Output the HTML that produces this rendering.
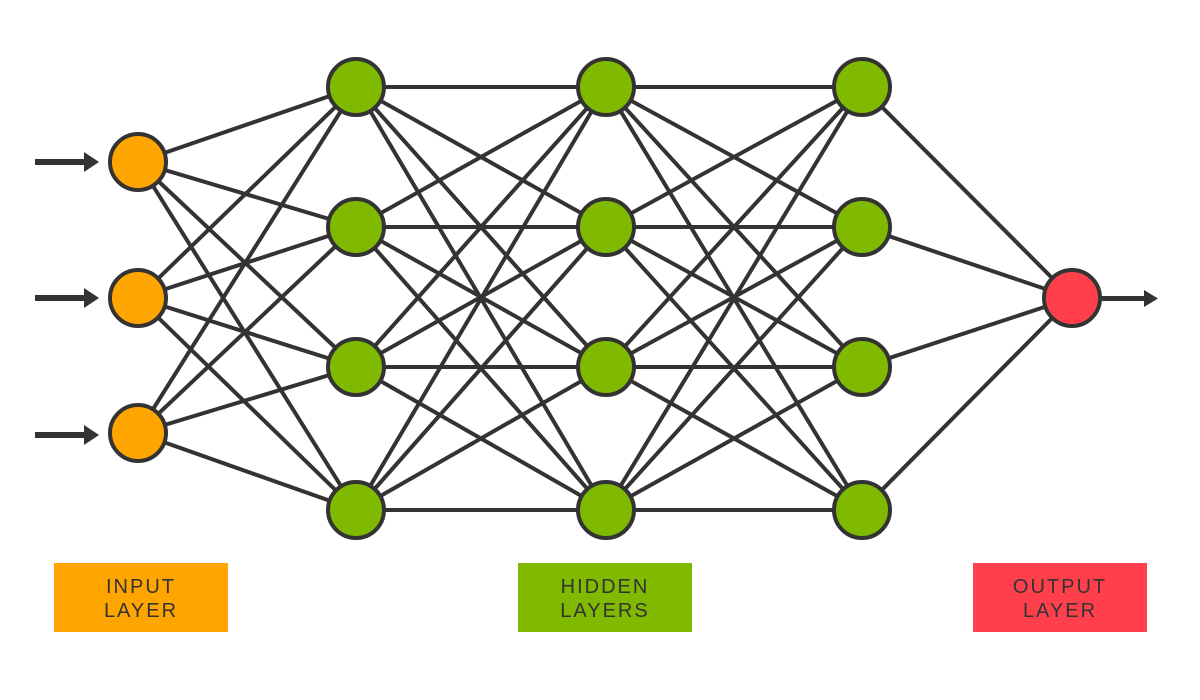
<!DOCTYPE html>
<html><head><meta charset="utf-8"><style>
html,body{margin:0;padding:0;background:#fff;}
svg{display:block;}
text{font-family:"Liberation Sans",sans-serif;font-size:20px;fill:#333;letter-spacing:2px;text-anchor:middle;}
</style></head><body>
<svg width="1200" height="700" viewBox="0 0 1200 700" xmlns="http://www.w3.org/2000/svg">
<rect width="1200" height="700" fill="#fff"/>
<path fill="none" stroke="#333" stroke-width="4" d="
M138 162L356 87M138 162L356 227M138 162L356 367M138 162L356 510
M138 298L356 87M138 298L356 227M138 298L356 367M138 298L356 510
M138 433L356 87M138 433L356 227M138 433L356 367M138 433L356 510
M356 87L606 87M356 87L606 227M356 87L606 367M356 87L606 510
M356 227L606 87M356 227L606 227M356 227L606 367M356 227L606 510
M356 367L606 87M356 367L606 227M356 367L606 367M356 367L606 510
M356 510L606 87M356 510L606 227M356 510L606 367M356 510L606 510
M606 87L862 87M606 87L862 227M606 87L862 367M606 87L862 510
M606 227L862 87M606 227L862 227M606 227L862 367M606 227L862 510
M606 367L862 87M606 367L862 227M606 367L862 367M606 367L862 510
M606 510L862 87M606 510L862 227M606 510L862 367M606 510L862 510
M862 87L1072 298M862 227L1072 298M862 367L1072 298M862 510L1072 298"/>
<g stroke="#333" stroke-width="4">
<circle cx="138" cy="162" r="28" fill="#ffa500"/>
<circle cx="138" cy="298" r="28" fill="#ffa500"/>
<circle cx="138" cy="433" r="28" fill="#ffa500"/>
<circle cx="356" cy="87" r="28" fill="#7fba00"/>
<circle cx="356" cy="227" r="28" fill="#7fba00"/>
<circle cx="356" cy="367" r="28" fill="#7fba00"/>
<circle cx="356" cy="510" r="28" fill="#7fba00"/>
<circle cx="606" cy="87" r="28" fill="#7fba00"/>
<circle cx="606" cy="227" r="28" fill="#7fba00"/>
<circle cx="606" cy="367" r="28" fill="#7fba00"/>
<circle cx="606" cy="510" r="28" fill="#7fba00"/>
<circle cx="862" cy="87" r="28" fill="#7fba00"/>
<circle cx="862" cy="227" r="28" fill="#7fba00"/>
<circle cx="862" cy="367" r="28" fill="#7fba00"/>
<circle cx="862" cy="510" r="28" fill="#7fba00"/>
<circle cx="1072" cy="298" r="28" fill="#ff404c"/>
</g>
<g fill="#333">
<rect x="35" y="159" width="52" height="6"/><polygon points="84,152 99,162 84,172"/>
<rect x="35" y="295" width="52" height="6"/><polygon points="84,288 99,298 84,308"/>
<rect x="35" y="432" width="52" height="6"/><polygon points="84,425 99,435 84,445"/>
<rect x="1102" y="296" width="44" height="5"/><polygon points="1144,290 1158,298.5 1144,307"/>
</g>
<rect x="54" y="563" width="174" height="69" fill="#ffa500"/>
<text x="141" y="593">INPUT</text><text x="141" y="617">LAYER</text>
<rect x="518" y="563" width="174" height="69" fill="#7fba00"/>
<text x="605" y="593">HIDDEN</text><text x="605" y="617">LAYERS</text>
<rect x="973" y="563" width="174" height="69" fill="#ff404c"/>
<text x="1060" y="593">OUTPUT</text><text x="1060" y="617">LAYER</text>
</svg>
</body></html>
